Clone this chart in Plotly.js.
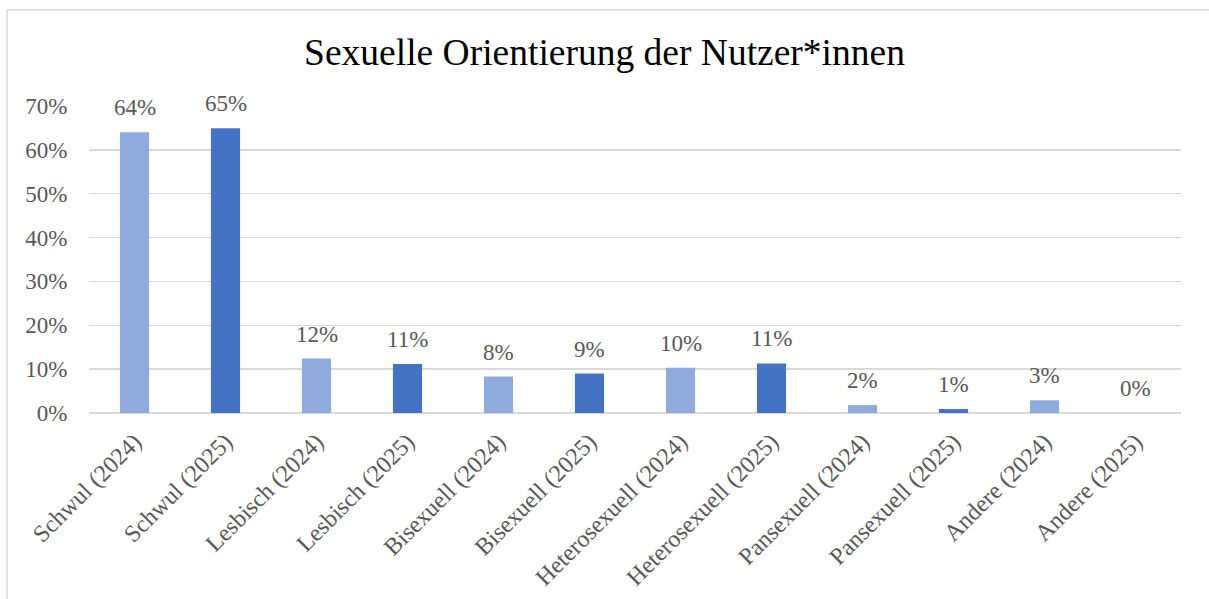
<!DOCTYPE html>
<html>
<head>
<meta charset="utf-8">
<script src="https://cdn.plot.ly/plotly-3.0.1.min.js"></script>
<style>html,body{margin:0;padding:0;background:#fff;}#chart{width:1209px;height:599px;}</style>
</head>
<body>
<div id="chart"></div>
<script>
const categories = [
  "Schwul (2024)", "Schwul (2025)",
  "Lesbisch (2024)", "Lesbisch (2025)",
  "Bisexuell (2024)", "Bisexuell (2025)",
  "Heterosexuell (2024)", "Heterosexuell (2025)",
  "Pansexuell (2024)", "Pansexuell (2025)",
  "Andere (2024)", "Andere (2025)"
];
const shares = [0.640, 0.649, 0.124, 0.112, 0.083, 0.090, 0.103, 0.113, 0.018, 0.009, 0.029, 0.000];
const years = ["2024", "2025", "2024", "2025", "2024", "2025", "2024", "2025", "2024", "2025", "2024", "2025"];
const yearColors = {"2024": "#8FAADC", "2025": "#4472C4"};
const yTickVals = [0, 0.1, 0.2, 0.3, 0.4, 0.5, 0.6, 0.7];

const FONT = "Liberation Serif, Times New Roman, serif";
const GREY = "#595959";

const trace = {
  type: "bar",
  x: categories,
  y: shares,
  marker: {color: years.map(y => yearColors[y])},
  hoverinfo: "x+y"
};

const annotations = categories.map((c, i) => ({
  x: c, y: shares[i], xref: "x", yref: "y",
  text: Math.round(shares[i] * 100) + "%",
  showarrow: false, yanchor: "bottom", yshift: 10,
  font: {family: FONT, size: 23, color: GREY}
}));

const layout = {
  width: 1209, height: 599,
  paper_bgcolor: "#fff", plot_bgcolor: "#fff",
  margin: {l: 89, r: 28, t: 106, b: 186, autoexpand: false},
  showlegend: false,
  bargap: 0.68,
  title: {
    text: "Sexuelle Orientierung der Nutzer*innen",
    font: {family: FONT, size: 37.5, color: "#000"},
    x: 0.5, xref: "container", xanchor: "center",
    y: 0.913, yref: "container", yanchor: "middle"
  },
  font: {family: FONT, color: GREY},
  xaxis: {
    type: "category",
    tickangle: -45,
    tickfont: {family: FONT, size: 24, color: GREY},
    showgrid: false, zeroline: false, showline: false,
    ticks: "outside", ticklen: 4, tickcolor: "rgba(0,0,0,0)",
    automargin: false
  },
  yaxis: {
    range: [0, 0.7],
    tickvals: yTickVals,
    tickformat: ".0%",
    tickfont: {family: FONT, size: 23, color: GREY},
    showgrid: true, gridcolor: "#D9D9D9", gridwidth: 1.3,
    zeroline: true, zerolinecolor: "#D9D9D9", zerolinewidth: 1.3,
    showline: false,
    ticks: "outside", ticklen: 16, tickcolor: "rgba(0,0,0,0)",
    automargin: false
  },
  annotations: annotations,
  shapes: [{
    type: "rect", xref: "paper", yref: "paper",
    x0: -0.0751, x1: 1.2, y0: -1.0, y1: 1.3127,
    line: {color: "#D9D9D9", width: 1.5}, fillcolor: "rgba(0,0,0,0)",
    layer: "below"
  }]
};

Plotly.newPlot("chart", [trace], layout, {displayModeBar: false, staticPlot: true});
</script>
</body>
</html>
